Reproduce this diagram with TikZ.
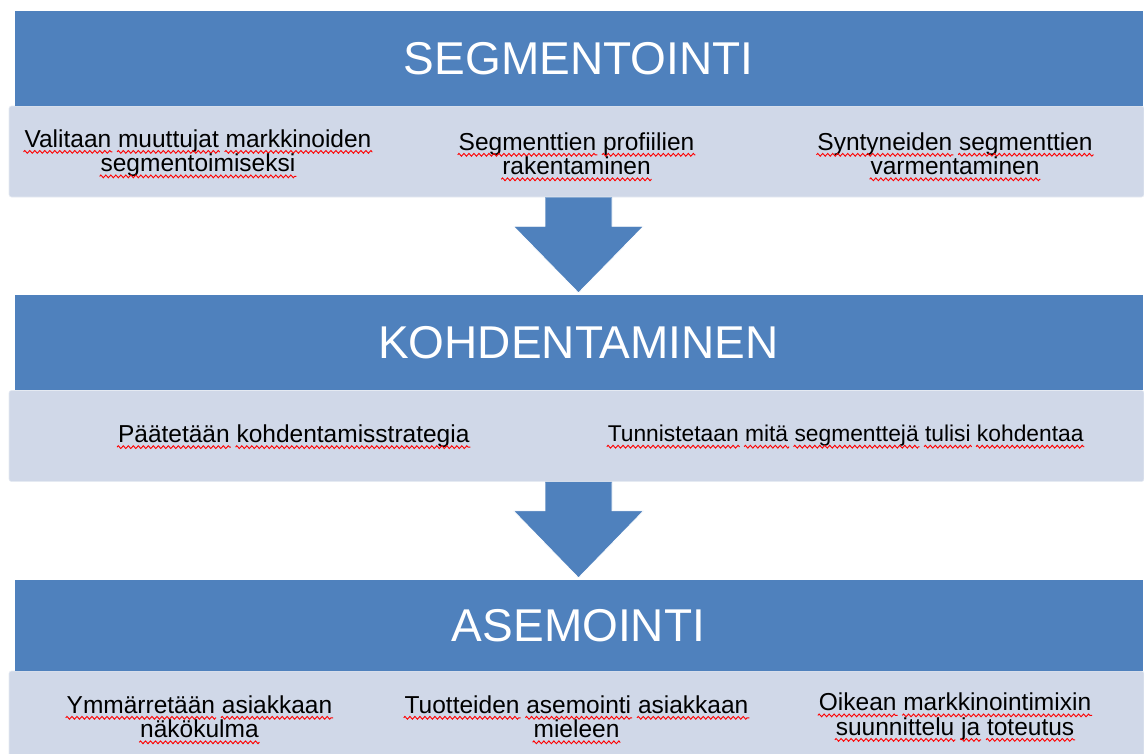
\documentclass[tikz,border=0pt]{standalone}
\usepackage{fontspec}
\setmainfont{Liberation Sans}
\usetikzlibrary{calc,decorations.pathmorphing}

\definecolor{barblue}{RGB}{79,129,189}
\definecolor{panel}{RGB}{208,216,232}

% a word with a red zigzag spell-check underline
\newcommand\sq[1]{\tikz[baseline=(w.base),x=1pt,y=1pt]{%
  \node[inner sep=0pt,outer sep=0pt,anchor=base] (w) {#1};%
  \draw[overlay,red,line width=0.9pt,line join=miter,decorate,
    decoration={zigzag,segment length=5pt,amplitude=1.4pt}]
    ([yshift=-4.8pt,xshift=-1pt]w.base west) -- ([yshift=-4.8pt,xshift=1pt]w.base east);}}

\begin{document}
\begin{tikzpicture}[x=1pt,y=-1pt,
  bar/.style={fill=barblue, text=white, font=\fontsize{46}{50}\selectfont,
    minimum width=1128pt, inner sep=0pt},
  panelbox/.style={fill=panel, draw=panel!55!white, line width=0.6pt,
    rounded corners=2.5pt, minimum width=1135pt, minimum height=91pt, inner sep=0pt},
  item/.style={font=\fontsize{24.5}{24.5}\selectfont, align=center, inner sep=0pt},
  flowfill/.style={fill=barblue},
  flowedge/.style={draw=white, line width=0.7pt, line join=miter}]
\useasboundingbox (0,0) rectangle (1144,753);
\clip (0,0) rectangle (1144,753);

% stage 1
\node[panelbox] (p1) at (576.5,151.5) {};
\node[bar, minimum height=95pt] (b1) at (578.5,58.5) {SEGMENTOINTI};
% stage 2
\node[panelbox] (p2) at (576.5,436) {};
\node[bar, minimum height=95pt] (b2) at (578.5,342.5) {KOHDENTAMINEN};
% stage 3
\node[panelbox] (p3) at (576.5,716.5) {};
\node[bar, minimum height=91pt] (b3) at (578.5,625.5) {ASEMOINTI};

% block arrows between stages
\coordinate (t1) at (p1.south -| b2.north);
\coordinate (k1) at ($(b2.north)+(0,-2)$);
\fill[flowfill] ($(t1)+(-33.5,0)$) -- ($(t1)+(33.5,0)$) -- ($(t1)+(33.5,29)$) -- ($(t1)+(65,29)$)
  -- (k1) -- ($(t1)+(-65,29)$) -- ($(t1)+(-33.5,29)$) -- cycle;
\draw[flowedge] ($(t1)+(33.5,0.5)$) -- ($(t1)+(33.5,29)$) -- ($(t1)+(65,29)$)
  -- (k1) -- ($(t1)+(-65,29)$) -- ($(t1)+(-33.5,29)$) -- ($(t1)+(-33.5,0.5)$);

\coordinate (t2) at (p2.south -| b3.north);
\coordinate (k2) at ($(b3.north)+(0,-2)$);
\fill[flowfill] ($(t2)+(-33.5,0)$) -- ($(t2)+(33.5,0)$) -- ($(t2)+(33.5,29)$) -- ($(t2)+(65,29)$)
  -- (k2) -- ($(t2)+(-65,29)$) -- ($(t2)+(-33.5,29)$) -- cycle;
\draw[flowedge] ($(t2)+(33.5,0.5)$) -- ($(t2)+(33.5,29)$) -- ($(t2)+(65,29)$)
  -- (k2) -- ($(t2)+(-65,29)$) -- ($(t2)+(-33.5,29)$) -- ($(t2)+(-33.5,0.5)$);

% stage 1 items
\node[item] (s1) at ($(p1.west)!1/6!(p1.east)+(0,1.5)$)
  {\sq{Valitaan} \sq{muuttujat} \sq{markkinoiden}\\ \sq{segmentoimiseksi}};
\node[item] (s2) at ($(p1.west)!1/2!(p1.east)+(0,2)$)
  {\sq{Segmenttien} \sq{profiilien}\\ \sq{rakentaminen}};
\node[item] (s3) at ($(p1.west)!5/6!(p1.east)+(0,2)$)
  {\sq{Syntyneiden} \sq{segmenttien}\\ \sq{varmentaminen}};

% stage 2 items
\node[item] (k1t) at ($(p2.west)!0.251!(p2.east)$)
  {\sq{Päätetään} \sq{kohdentamisstrategia}};
\node[item, font=\fontsize{22.8}{24.5}\selectfont] (k2t) at ($(p2.west)!0.737!(p2.east)$)
  {\sq{Tunnistetaan} \sq{mitä} \sq{segmenttejä} \sq{tulisi} \sq{kohdentaa}};

% stage 3 items
\node[item] (a1) at ($(p3.west)!0.168!(p3.east)$)
  {\sq{Ymmärretään} \sq{asiakkaan}\\ \sq{näkökulma}};
\node[item] (a2) at ($(p3.west)!1/2!(p3.east)$)
  {\sq{Tuotteiden} \sq{asemointi} \sq{asiakkaan}\\ \sq{mieleen}};
\node[item] (a3) at ($(p3.west)!5/6!(p3.east)$)
  {\sq{Oikean} \sq{markkinointimixin}\\ \sq{suunnittelu} \sq{ja} \sq{toteutus}};
\end{tikzpicture}
\end{document}
